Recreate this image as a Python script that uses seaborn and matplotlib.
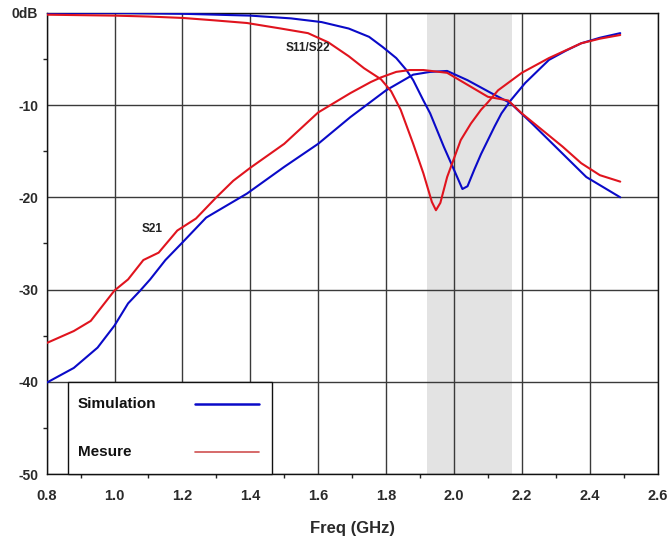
import matplotlib
matplotlib.use("Agg")
import matplotlib.pyplot as plt
from matplotlib.patches import Rectangle
import numpy as np
import pandas as pd
import seaborn as sns

# S11 simulation (blue)
s11_sim_f = [0.8, 0.9, 1.0, 1.1, 1.2, 1.3, 1.4, 1.52, 1.61, 1.69, 1.75, 1.79, 1.83, 1.86,
             1.88, 1.91, 1.93, 1.95, 1.97, 2.0, 2.025, 2.04, 2.06, 2.08, 2.1, 2.12, 2.14,
             2.167, 2.21, 2.28, 2.33, 2.375, 2.43, 2.49]
s11_sim_db = [0.0, 0.0, 0.0, -0.05, -0.1, -0.2, -0.3, -0.6, -1.0, -1.7, -2.6, -3.7, -4.9, -6.2,
              -7.3, -9.5, -10.9, -12.7, -14.5, -17.0, -19.1, -18.8, -17.0, -15.3, -13.8, -12.3, -10.9,
              -9.5, -7.6, -5.1, -4.1, -3.3, -2.7, -2.2]

# S21 simulation (blue)
s21_sim_f = [0.8, 0.88, 0.95, 1.0, 1.04, 1.076, 1.105, 1.15, 1.2, 1.27, 1.39, 1.5, 1.6, 1.695,
             1.8, 1.88, 1.93, 1.98, 2.04, 2.11, 2.167, 2.23, 2.31, 2.39, 2.49]
s21_sim_db = [-40.1, -38.5, -36.3, -33.9, -31.5, -30.1, -28.9, -26.8, -24.9, -22.2, -19.6, -16.7,
              -14.2, -11.3, -8.4, -6.7, -6.4, -6.3, -7.3, -8.7, -9.8, -12.0, -14.9, -17.8, -20.0]

# S11 measured (red)
s11_mes_f = [0.8, 0.9, 1.0, 1.1, 1.2, 1.29, 1.39, 1.49, 1.57, 1.63, 1.69, 1.735, 1.785, 1.815,
             1.843, 1.88, 1.91, 1.935, 1.947, 1.96, 1.98, 2.0, 2.02, 2.05, 2.08, 2.1, 2.13, 2.2,
             2.28, 2.375, 2.43, 2.49]
s11_mes_db = [-0.2, -0.25, -0.3, -0.4, -0.55, -0.8, -1.1, -1.7, -2.2, -3.2, -4.7, -6.0, -7.2, -8.5,
              -10.5, -14.2, -17.4, -20.5, -21.4, -20.6, -17.8, -15.8, -13.8, -12.0, -10.5, -9.7, -8.4,
              -6.5, -4.9, -3.3, -2.8, -2.4]

# S21 measured (red)
s21_mes_f = [0.8, 0.88, 0.93, 1.0, 1.04, 1.085, 1.13, 1.185, 1.24, 1.3, 1.35, 1.4, 1.5, 1.6,
             1.695, 1.755, 1.785, 1.83, 1.87, 1.91, 1.98, 2.04, 2.1, 2.16, 2.2, 2.26, 2.32, 2.375,
             2.43, 2.49]
s21_mes_db = [-35.8, -34.5, -33.4, -30.1, -28.9, -26.8, -26.0, -23.6, -22.3, -20.0, -18.2, -16.8,
              -14.2, -10.8, -8.7, -7.5, -7.0, -6.4, -6.2, -6.2, -6.5, -7.8, -9.1, -9.5, -10.9,
              -12.7, -14.5, -16.3, -17.6, -18.3]

band = (1.92, 2.17)
x_ticks = [0.8, 1.0, 1.2, 1.4, 1.6, 1.8, 2.0, 2.2, 2.4, 2.6]
x_tick_labels = ["0.8", "1.0", "1.2", "1.4", "1.6", "1.8", "2.0", "2.2", "2.4", "2.6"]
y_ticks = [0, -10, -20, -30, -40, -50]
y_tick_labels = ["0dB", "-10", "-20", "-30", "-40", "-50"]
legend_labels = ["Simulation", "Mesure"]

BLUE = "#0a0ac8"
RED = "#e0141e"
GRID = "#3a3a3a"
TXT = "#2a2a2a"


def make_frame(f, db, name):
    return pd.DataFrame({"Freq": f, "dB": db, "curve": name})


sns.set_style("white")
plt.rcParams["font.family"] = ["Liberation Sans", "DejaVu Sans"]

fig = plt.figure(figsize=(6.71, 5.40), dpi=100)
ax = fig.add_axes([0.0695, 0.1222, 0.9105, 0.854])

ax.axvspan(band[0], band[1], color="#e3e3e3", lw=0, zorder=0.2)

curves = [
    (make_frame(s11_sim_f, s11_sim_db, "S11 sim"), BLUE),
    (make_frame(s21_sim_f, s21_sim_db, "S21 sim"), BLUE),
    (make_frame(s11_mes_f, s11_mes_db, "S11 mes"), RED),
    (make_frame(s21_mes_f, s21_mes_db, "S21 mes"), RED),
]
for df, col in curves:
    sns.lineplot(data=df, x="Freq", y="dB", ax=ax, color=col, lw=1.5,
                 estimator=None, sort=False, legend=False, zorder=3)

ax.set_xlim(0.8, 2.6)
ax.set_ylim(-50, 0)
ax.set_xticks(x_ticks)
ax.set_xticklabels(x_tick_labels)
ax.set_yticks(y_ticks)
ax.set_yticklabels(y_tick_labels)
ax.set_xticks(np.arange(0.9, 2.6, 0.2), minor=True)
ax.set_yticks(np.arange(-45, 0, 10), minor=True)

ax.set_axisbelow(True)
ax.grid(True, which="major", color=GRID, lw=1.0)
for s in ax.spines.values():
    s.set_color("#111111")
    s.set_linewidth(1.0)

ax.tick_params(axis="both", which="major", direction="out", length=5, width=1,
               color="#222222", labelcolor=TXT, pad=4)
ax.tick_params(axis="both", which="minor", direction="out", length=3, width=1,
               color="#222222", bottom=True, left=True)
ax.tick_params(axis="x", labelsize=10.5, pad=6)
ax.tick_params(axis="y", labelsize=10, pad=1)
for lab in ax.get_xticklabels() + ax.get_yticklabels():
    lab.set_fontweight("bold")

ax.set_xlabel("Freq (GHz)", fontsize=12, fontweight="bold", color=TXT, labelpad=13)
ax.set_ylabel("")

ax.text(1.57, -3.8, "S11/S22", fontsize=8.5, fontweight="bold", color="#222222",
        ha="center", va="center")
ax.text(1.11, -23.4, "S21", fontsize=8.5, fontweight="bold", color="#222222",
        ha="center", va="center")

# legend box drawn by hand (text left, sample line right)
ax.add_patch(Rectangle((0.035, 0.0), 0.334, 0.2, transform=ax.transAxes,
                       facecolor="white", edgecolor="#111111", lw=1.0, zorder=5,
                       clip_on=False))
for ty, lab, col, lw in [(0.152, legend_labels[0], BLUE, 1.8),
                         (0.048, legend_labels[1], "#d05050", 1.2)]:
    ax.text(0.051, ty, lab, transform=ax.transAxes, fontsize=11, fontweight="bold",
            color="#111111", ha="left", va="center", zorder=6)
    ax.plot([0.243, 0.348], [ty, ty], transform=ax.transAxes, color=col, lw=lw, zorder=6)

fig.savefig("out.png", dpi=100)
